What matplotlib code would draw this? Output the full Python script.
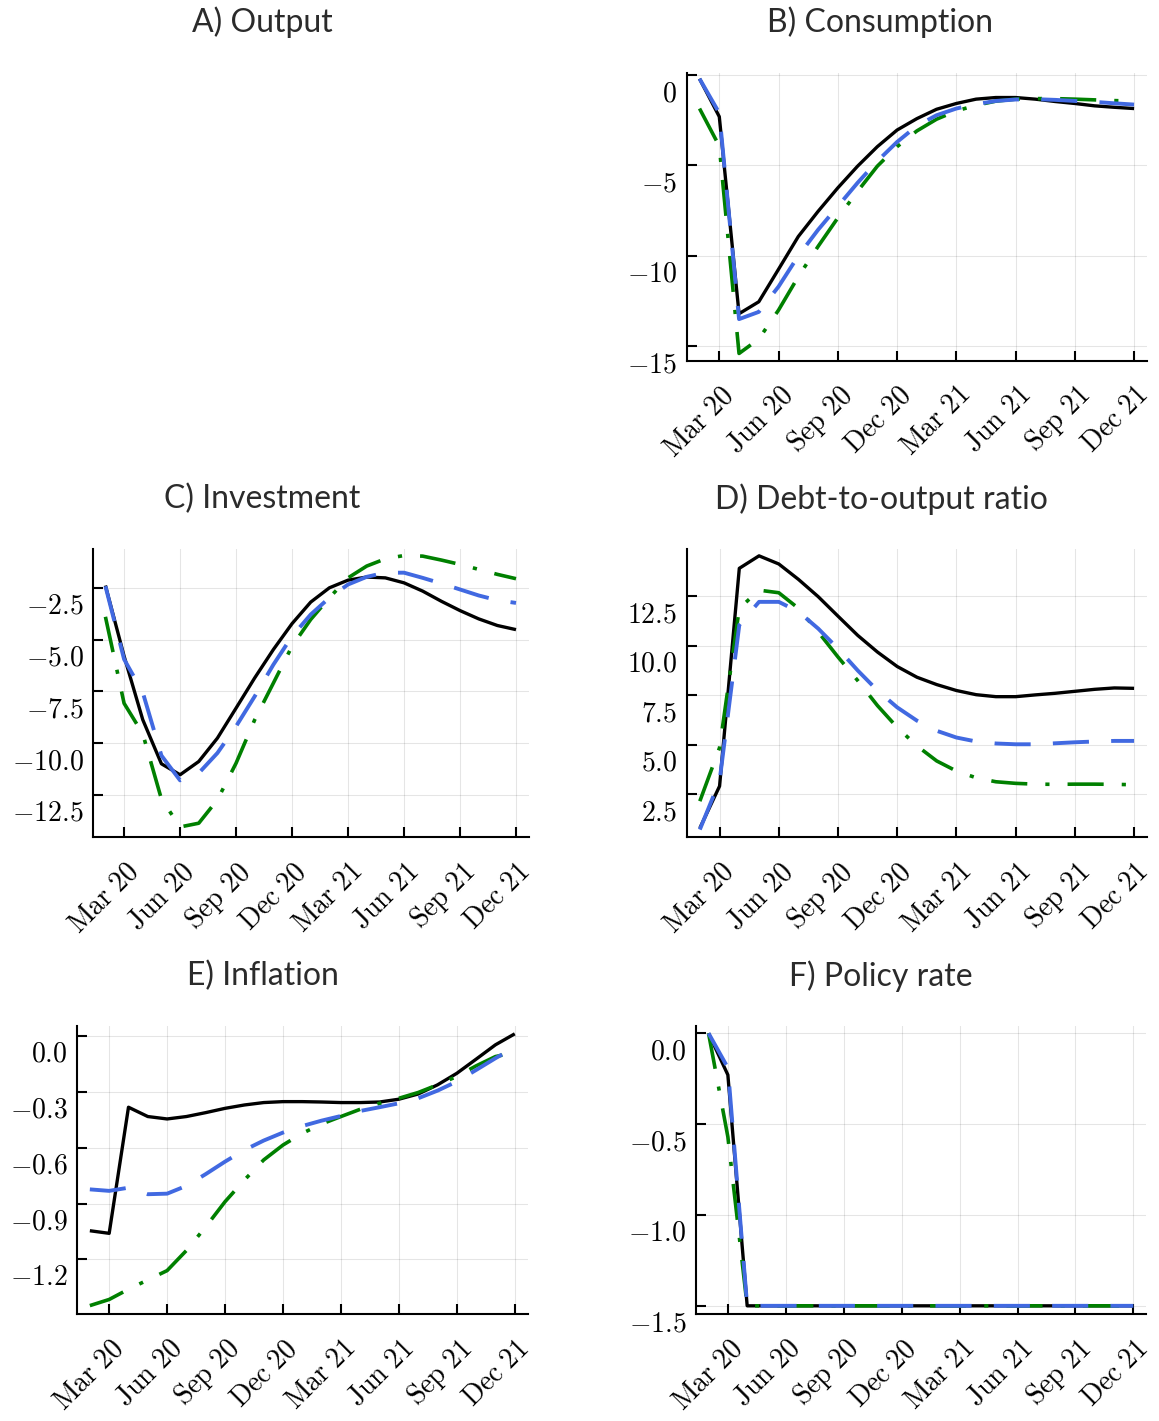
import numpy as np
import pandas as pd
import matplotlib
matplotlib.use("Agg")
import matplotlib.pyplot as plt
from matplotlib.transforms import ScaledTranslation
from matplotlib.ticker import FixedLocator, FuncFormatter

# monthly periods, Feb 2020 .. Dec 2021
months = pd.period_range("2020-02", "2021-12", freq="M")
tick_idx = [i for i, m in enumerate(months) if m.month in (3, 6, 9, 12)]
tick_labels = [m.strftime("%b %y") for m in months[tick_idx]]

# B) Consumption
cons_solid = [-0.2, -2.3, -13.2, -12.54, -10.74, -8.93, -7.54, -6.24, -5.04, -3.96, -3.04, -2.41,
              -1.89, -1.57, -1.33, -1.24, -1.24, -1.33, -1.46, -1.57, -1.70, -1.78, -1.85]
cons_dashed = [-0.2, -2.1, -13.5, -13.1, -11.7, -10.0, -8.56, -7.26, -5.96, -4.76, -3.70, -2.81,
               -2.22, -1.85, -1.61, -1.43, -1.35, -1.33, -1.37, -1.43, -1.48, -1.56, -1.63]
cons_dashdot = [-1.85, -3.93, -15.4, -14.6, -13.0, -11.15, -9.48, -7.9, -6.43, -5.04, -3.96, -3.09,
                -2.44, -1.98, -1.67, -1.44, -1.33, -1.30, -1.30, -1.33, -1.37, -1.41, -1.44]

# C) Investment
inv_solid = [-2.39, -5.8, -8.87, -11.0, -11.53, -10.89, -9.76, -8.31, -6.85, -5.48, -4.23, -3.19,
             -2.5, -2.13, -1.98, -2.02, -2.26, -2.66, -3.15, -3.6, -4.0, -4.32, -4.52]
inv_dashed = [-2.42, -5.95, -7.55, -10.6, -11.8, -11.45, -10.48, -9.19, -7.74, -6.21, -4.84, -3.79,
              -2.98, -2.34, -1.97, -1.77, -1.77, -2.02, -2.29, -2.58, -2.87, -3.10, -3.23]
inv_dashdot = [-3.9, -8.08, -9.55, -12.7, -14.05, -13.87, -12.74, -10.97, -8.87, -7.1, -5.32, -4.03,
               -2.98, -2.02, -1.45, -1.10, -0.94, -0.97, -1.16, -1.37, -1.61, -1.85, -2.06]

# D) Debt-to-output ratio
debt_solid = [0.8, 2.92, 13.9, 14.53, 14.12, 13.34, 12.47, 11.49, 10.52, 9.68, 8.95, 8.41,
              8.04, 7.74, 7.53, 7.43, 7.43, 7.52, 7.60, 7.70, 7.80, 7.87, 7.85]
debt_dashed = [0.73, 3.18, 11.05, 12.21, 12.21, 11.71, 10.86, 9.85, 8.75, 7.74, 6.89, 6.22,
               5.71, 5.37, 5.17, 5.07, 5.03, 5.03, 5.08, 5.13, 5.17, 5.20, 5.20]
debt_dashdot = [2.16, 4.86, 11.88, 12.80, 12.67, 11.88, 10.69, 9.43, 8.24, 6.98, 5.88, 4.95,
                4.19, 3.68, 3.34, 3.14, 3.06, 3.02, 3.01, 3.02, 3.02, 3.01, 2.99]

# E) Inflation
infl_solid = [-1.046, -1.06, -0.383, -0.433, -0.446, -0.433, -0.412, -0.389, -0.371, -0.358, -0.353, -0.353,
              -0.355, -0.358, -0.358, -0.355, -0.340, -0.312, -0.263, -0.201, -0.125, -0.048, 0.011]
infl_dashed = [-0.824, -0.832, -0.815, -0.85, -0.847, -0.805, -0.742, -0.675, -0.613, -0.562, -0.519, -0.484,
               -0.455, -0.430, -0.403, -0.383, -0.362, -0.335, -0.294, -0.245, -0.183, -0.120, -0.061]
infl_dashdot = [-1.448, -1.415, -1.36, -1.31, -1.26, -1.152, -1.025, -0.89, -0.774, -0.666, -0.586, -0.523,
                -0.473, -0.433, -0.394, -0.362, -0.335, -0.304, -0.263, -0.218, -0.161, -0.111, -0.090]

# F) Policy rate
rate_solid = [0.0, -0.229] + [-1.5] * 21
rate_dashed = [0.0, -0.19] + [-1.5] * 21
rate_dashdot = [0.0, -0.57] + [-1.5] * 21

W, H = 1159, 1421
plt.rcParams["mathtext.fontset"] = "cm"
plt.rcParams["lines.scale_dashes"] = False

fig = plt.figure(figsize=(W / 100, H / 100), dpi=100)


def px_rect(left, right, top, bottom):
    return [left / W, 1 - bottom / H, (right - left) / W, (bottom - top) / H]


panels = [
    ("B) Consumption", (880, 22), px_rect(686.7, 1147.3, 73.3, 360.7), (-15.8, 0.1),
     [0, -5, -10, -15], "{:.0f}", (cons_solid, cons_dashed, cons_dashdot)),
    ("C) Investment", (262, 499), px_rect(93.3, 528.5, 549.3, 837.3), (-14.55, -0.64),
     [-2.5, -5.0, -7.5, -10.0, -12.5], "{:.1f}", (inv_solid, inv_dashed, inv_dashdot)),
    ("D) Debt-to-output ratio", (881, 499), px_rect(687, 1147.3, 549.3, 837.3), (0.34, 14.86),
     [2.5, 5.0, 7.5, 10.0, 12.5], "{:.1f}", (debt_solid, debt_dashed, debt_dashdot)),
    ("E) Inflation", (263, 976), px_rect(77.3, 527.7, 1026, 1314), (-1.493, 0.053),
     [0.0, -0.3, -0.6, -0.9, -1.2], "{:.1f}", (infl_solid, infl_dashed, infl_dashdot)),
    ("F) Policy rate", (881, 976), px_rect(696, 1146.3, 1026, 1314), (-1.545, 0.04),
     [0.0, -0.5, -1.0, -1.5], "{:.1f}", (rate_solid, rate_dashed, rate_dashdot)),
]

title_kw = dict(fontsize=23, family=["Lato", "DejaVu Sans"], weight="normal",
                ha="center", va="center", color="#2b2b2b")
fig.text(262 / W, 1 - 22 / H, "A) Output", **title_kw)

x = np.arange(len(months))
for title, (tx, ty), rect, ylim, yticks, fmt, (solid, dashed, dashdot) in panels:
    ax = fig.add_axes(rect)
    ax.plot(x, solid, color="black", lw=2.4, solid_capstyle="butt")
    ax.plot(x, dashdot, color="#008000", lw=2.6, dashes=(26, 13, 3, 13), dash_capstyle="butt")
    ax.plot(x, dashed, color="#4169E1", lw=2.8, dashes=(26, 16), dash_capstyle="butt")

    ax.set_xlim(-0.65, len(months) - 1 + 0.67)
    ax.set_ylim(*ylim)
    ax.xaxis.set_major_locator(FixedLocator(tick_idx))
    ax.set_xticklabels([rf"$\mathrm{{{lab.replace(' ', '\\ ')}}}$" for lab in tick_labels])
    ax.yaxis.set_major_locator(FixedLocator(yticks))
    ax.yaxis.set_major_formatter(FuncFormatter(lambda v, p, f=fmt: "$" + f.format(v) + "$"))

    ax.grid(True, color="black", alpha=0.1, lw=0.8)
    ax.set_axisbelow(True)
    for side in ("top", "right"):
        ax.spines[side].set_visible(False)
    for side in ("left", "bottom"):
        ax.spines[side].set_linewidth(1.5)
    ax.tick_params(direction="in", length=7, width=1.5, labelsize=20)
    ax.tick_params(axis="y", pad=7)
    ax.tick_params(axis="x", pad=0)

    for lab in ax.get_yticklabels():
        lab.set_transform(lab.get_transform() + ScaledTranslation(0, -0.15, fig.dpi_scale_trans))
    for lab in ax.get_xticklabels():
        lab.set_rotation(45)
        lab.set_rotation_mode("anchor")
        lab.set_ha("right")
        lab.set_va("top")
        lab.set_transform(lab.get_transform() + ScaledTranslation(0.0, -0.2, fig.dpi_scale_trans))

    fig.text(tx / W, 1 - ty / H, title, **title_kw)

fig.savefig("out.png", dpi=100)
